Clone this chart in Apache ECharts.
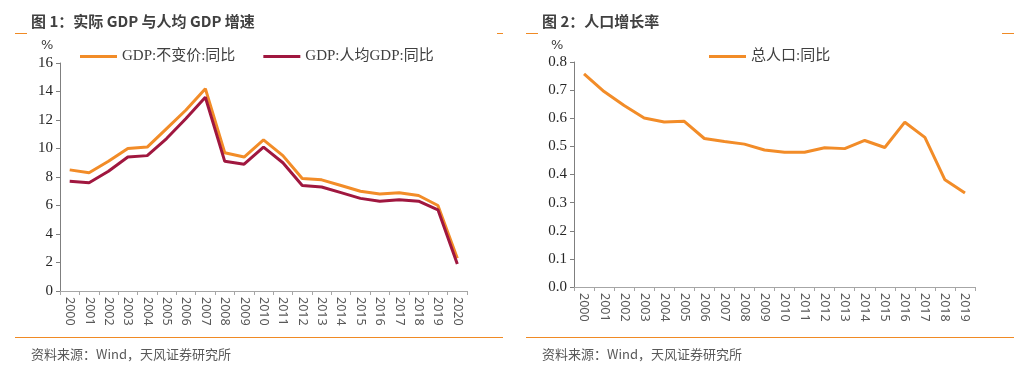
<!DOCTYPE html>
<html><head><meta charset="utf-8">
<script src="https://cdn.jsdelivr.net/npm/echarts@6/dist/echarts.min.js"></script>
<style>html,body{margin:0;padding:0;background:#fff}#c{width:1032px;height:368px}</style>
</head><body><div id="c"></div>
<script>
const years1 = ['2000','2001','2002','2003','2004','2005','2006','2007','2008','2009','2010','2011','2012','2013','2014','2015','2016','2017','2018','2019','2020'];
const gdpReal = [8.5,8.3,9.1,10.0,10.1,11.4,12.7,14.2,9.7,9.4,10.6,9.5,7.9,7.8,7.4,7.0,6.8,6.9,6.7,6.0,2.3];
const gdpPerCap = [7.7,7.6,8.4,9.4,9.5,10.7,12.1,13.6,9.1,8.9,10.1,9.0,7.4,7.3,6.9,6.5,6.3,6.4,6.3,5.7,1.9];
const years2 = ['2000','2001','2002','2003','2004','2005','2006','2007','2008','2009','2010','2011','2012','2013','2014','2015','2016','2017','2018','2019'];
const popGrowth = [0.758,0.695,0.645,0.601,0.587,0.589,0.528,0.517,0.508,0.487,0.479,0.479,0.495,0.492,0.521,0.496,0.586,0.532,0.381,0.334];
const yTicks1 = {min:0,max:16,interval:2};
const yTicks2 = {min:0,max:0.8,interval:0.1};

const ORANGE = '#F28C28', RED = '#A0173F', RULE = '#F08A24';
const serif = '"Liberation Serif","Noto Sans CJK SC",serif';
const sans = '"Noto Sans CJK SC","Noto Sans",sans-serif';

const chart = echarts.init(document.getElementById('c'), null, {renderer:'canvas'});
function xAxis(grid, data){
  return {type:'category', gridIndex:grid, data:data, boundaryGap:true,
    axisLine:{lineStyle:{color:'#A6A6A6',width:1}},
    axisTick:{show:true, alignWithLabel:false, length:4, lineStyle:{color:'#A6A6A6'}},
    axisLabel:{rotate:-90, interval:0, margin:6, color:'#595959', fontSize:12.5, fontFamily:'"Noto Sans","DejaVu Sans",sans-serif'}};
}
function yAxis(grid, t, fmt){
  return {type:'value', gridIndex:grid, min:t.min, max:t.max, interval:t.interval,
    axisLine:{show:true, lineStyle:{color:'#7F7F7F',width:1}},
    axisTick:{show:true, length:4, lineStyle:{color:'#7F7F7F'}},
    splitLine:{show:false},
    axisLabel:{margin:7, color:'#262626', fontSize:15, fontFamily:serif, formatter:fmt}};
}
chart.setOption({
  animation:false,
  textStyle:{fontFamily:sans},
  title:[
    {text:'图 1：实际 GDP 与人均 GDP 增速', left:26, top:9, textStyle:{fontSize:15, fontWeight:'bold', color:'#404040', fontFamily:sans}},
    {text:'图 2：人口增长率', left:537, top:9, textStyle:{fontSize:15, fontWeight:'bold', color:'#404040', fontFamily:sans}},
    {text:'资料来源：Wind，天风证券研究所', left:26, top:343, textStyle:{fontSize:13, fontWeight:'normal', color:'#595959', fontFamily:sans}},
    {text:'资料来源：Wind，天风证券研究所', left:537, top:343, textStyle:{fontSize:13, fontWeight:'normal', color:'#595959', fontFamily:sans}}
  ],
  legend:[
    {left:75, top:44, itemWidth:37, itemHeight:3, itemGap:28, icon:'rect',
     textStyle:{fontSize:15, color:'#404040', fontFamily:serif}, data:['GDP:不变价:同比','GDP:人均GDP:同比']},
    {left:704, top:44, itemWidth:37, itemHeight:3, icon:'rect',
     textStyle:{fontSize:15, color:'#404040', fontFamily:serif}, data:['总人口:同比']}
  ],
  grid:[
    {left:60, top:63, width:407, height:228},
    {left:574, top:62, width:401, height:225}
  ],
  xAxis:[xAxis(0, years1), xAxis(1, years2)],
  yAxis:[yAxis(0, yTicks1, v=>String(v)), yAxis(1, yTicks2, v=>v.toFixed(1))],
  graphic:[
    {type:'text', left:41, top:39, style:{text:'%', fontSize:13, fill:'#404040', fontFamily:'"DejaVu Sans",sans-serif'}},
    {type:'text', left:551, top:39, style:{text:'%', fontSize:13, fill:'#404040', fontFamily:'"DejaVu Sans",sans-serif'}},
    {type:'line', shape:{x1:15,y1:33.5,x2:27,y2:33.5}, style:{stroke:RULE, lineWidth:1}},
    {type:'line', shape:{x1:497,y1:33.5,x2:503,y2:33.5}, style:{stroke:RULE, lineWidth:1}},
    {type:'line', shape:{x1:15,y1:337.5,x2:503,y2:337.5}, style:{stroke:RULE, lineWidth:1}},
    {type:'line', shape:{x1:526,y1:33.5,x2:538,y2:33.5}, style:{stroke:RULE, lineWidth:1}},
    {type:'line', shape:{x1:1002,y1:33.5,x2:1014,y2:33.5}, style:{stroke:RULE, lineWidth:1}},
    {type:'line', shape:{x1:526,y1:337.5,x2:1014,y2:337.5}, style:{stroke:RULE, lineWidth:1}}
  ],
  series:[
    {name:'GDP:不变价:同比', type:'line', xAxisIndex:0, yAxisIndex:0, data:gdpReal, symbol:'none', lineStyle:{color:ORANGE,width:3}, itemStyle:{color:ORANGE}},
    {name:'GDP:人均GDP:同比', type:'line', xAxisIndex:0, yAxisIndex:0, data:gdpPerCap, symbol:'none', lineStyle:{color:RED,width:3}, itemStyle:{color:RED}},
    {name:'总人口:同比', type:'line', xAxisIndex:1, yAxisIndex:1, data:popGrowth, symbol:'none', lineStyle:{color:ORANGE,width:3}, itemStyle:{color:ORANGE}}
  ]
});
</script></body></html>
